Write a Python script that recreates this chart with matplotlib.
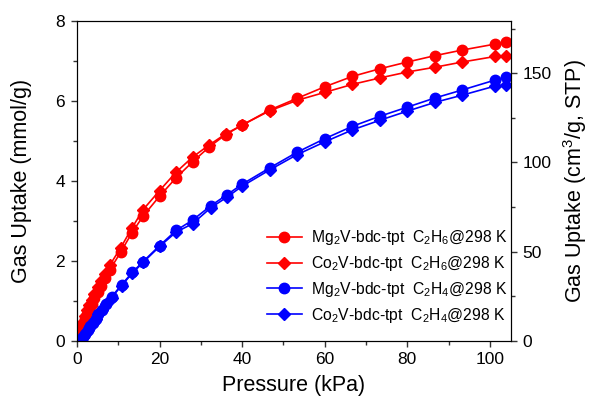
import matplotlib
matplotlib.use("Agg")
import matplotlib.pyplot as plt
from matplotlib.ticker import MultipleLocator

plt.rcParams['font.family'] = ['Liberation Sans', 'DejaVu Sans']
plt.rcParams['mathtext.fontset'] = 'custom'
plt.rcParams['mathtext.rm'] = 'Liberation Sans'
plt.rcParams['mathtext.it'] = 'Liberation Sans'
plt.rcParams['mathtext.default'] = 'regular'

# Data
p_c2h6 = [0.3, 0.6, 1.0, 1.5, 2.0, 2.5, 3.0, 3.6, 4.2, 5.0, 5.8, 6.8, 8.0, 10.6, 13.3, 16.0,
          20.0, 24.0, 28.0, 32.0, 36.0, 40.0, 46.7, 53.3, 60.0, 66.7, 73.3, 80.0, 86.7, 93.3, 101.3, 104.0]
mg_c2h6 = [0.08, 0.16, 0.28, 0.42, 0.55, 0.68, 0.80, 0.93, 1.06, 1.22, 1.38, 1.57, 1.78, 2.22, 2.70, 3.12,
           3.62, 4.08, 4.48, 4.85, 5.16, 5.40, 5.78, 6.07, 6.36, 6.62, 6.81, 6.98, 7.14, 7.28, 7.43, 7.47]
co_c2h6 = [0.10, 0.20, 0.33, 0.48, 0.62, 0.76, 0.90, 1.03, 1.16, 1.34, 1.50, 1.68, 1.90, 2.33, 2.82, 3.28,
           3.76, 4.22, 4.60, 4.90, 5.18, 5.40, 5.76, 6.02, 6.22, 6.42, 6.58, 6.73, 6.85, 6.98, 7.12, 7.12]

p_c2h4 = [1.0, 1.5, 2.0, 2.6, 3.2, 3.8, 4.5, 5.2, 6.0, 7.0, 8.4, 10.8, 13.4, 16.0, 20.0, 24.0, 28.0,
          32.4, 36.4, 40.0, 46.7, 53.3, 60.0, 66.7, 73.3, 80.0, 86.7, 93.3, 101.3, 104.0]
mg_c2h4 = [0.03, 0.10, 0.18, 0.27, 0.36, 0.45, 0.55, 0.66, 0.78, 0.92, 1.10, 1.40, 1.71, 1.98, 2.38, 2.76, 3.02,
           3.38, 3.66, 3.92, 4.33, 4.72, 5.06, 5.37, 5.62, 5.85, 6.08, 6.28, 6.53, 6.61]
co_c2h4 = [0.03, 0.10, 0.18, 0.27, 0.36, 0.45, 0.55, 0.66, 0.78, 0.92, 1.08, 1.38, 1.69, 1.96, 2.36, 2.72, 2.93,
           3.33, 3.60, 3.87, 4.28, 4.66, 4.98, 5.28, 5.52, 5.75, 5.97, 6.15, 6.38, 6.40]

labels = [r"Mg$_2$V-bdc-tpt  C$_2$H$_6$@298 K",
          r"Co$_2$V-bdc-tpt  C$_2$H$_6$@298 K",
          r"Mg$_2$V-bdc-tpt  C$_2$H$_4$@298 K",
          r"Co$_2$V-bdc-tpt  C$_2$H$_4$@298 K"]

fig = plt.figure(figsize=(5.93, 3.98), dpi=100)
ax = fig.add_axes([0.1298, 0.144, 0.7312, 0.8025])

lw = 1.2
ms = 7.5
ax.plot(p_c2h6, mg_c2h6, '-o', color='#ff0000', lw=lw, ms=ms, label=labels[0])
ax.plot(p_c2h6, co_c2h6, '-D', color='#ff0000', lw=lw, ms=ms*0.88, label=labels[1])
ax.plot(p_c2h4, mg_c2h4, '-o', color='#0000ff', lw=lw, ms=ms, label=labels[2])
ax.plot(p_c2h4, co_c2h4, '-D', color='#0000ff', lw=lw, ms=ms*0.88, label=labels[3])

ax.set_xlim(0, 105)
ax.set_ylim(0, 8)
ax.xaxis.set_major_locator(MultipleLocator(20))
ax.xaxis.set_minor_locator(MultipleLocator(10))
ax.yaxis.set_major_locator(MultipleLocator(2))
ax.yaxis.set_minor_locator(MultipleLocator(1))
ax.tick_params(which='both', direction='out', labelsize=12.5, width=1, color='#333333')
ax.tick_params(which='major', length=4.5, pad=4)
ax.tick_params(which='minor', length=3)
ax.tick_params(axis='x', top=False)
ax.set_xlabel('Pressure (kPa)', fontsize=15.5, labelpad=5.5)
ax.set_ylabel('Gas Uptake (mmol/g)', fontsize=15.5, labelpad=17)

ax2 = ax.twinx()
ax2.set_ylim(0, 8 * 22.4)
ax2.yaxis.set_major_locator(MultipleLocator(50))
ax2.yaxis.set_minor_locator(MultipleLocator(25))
ax2.tick_params(which='both', direction='out', labelsize=12.5, width=1, color='#333333')
ax2.tick_params(which='major', length=4.5, pad=4)
ax2.tick_params(which='minor', length=3)
ax2.set_ylabel(r'Gas Uptake (cm$^3$/g, STP)', fontsize=15.5, labelpad=7)

leg = ax.legend(loc='lower left', bbox_to_anchor=(0.42, 0.026), frameon=False,
                fontsize=11.3, handlelength=2.23, labelspacing=0.43, borderpad=0,
                handletextpad=0.57)

fig.savefig('out.png', dpi=100)
